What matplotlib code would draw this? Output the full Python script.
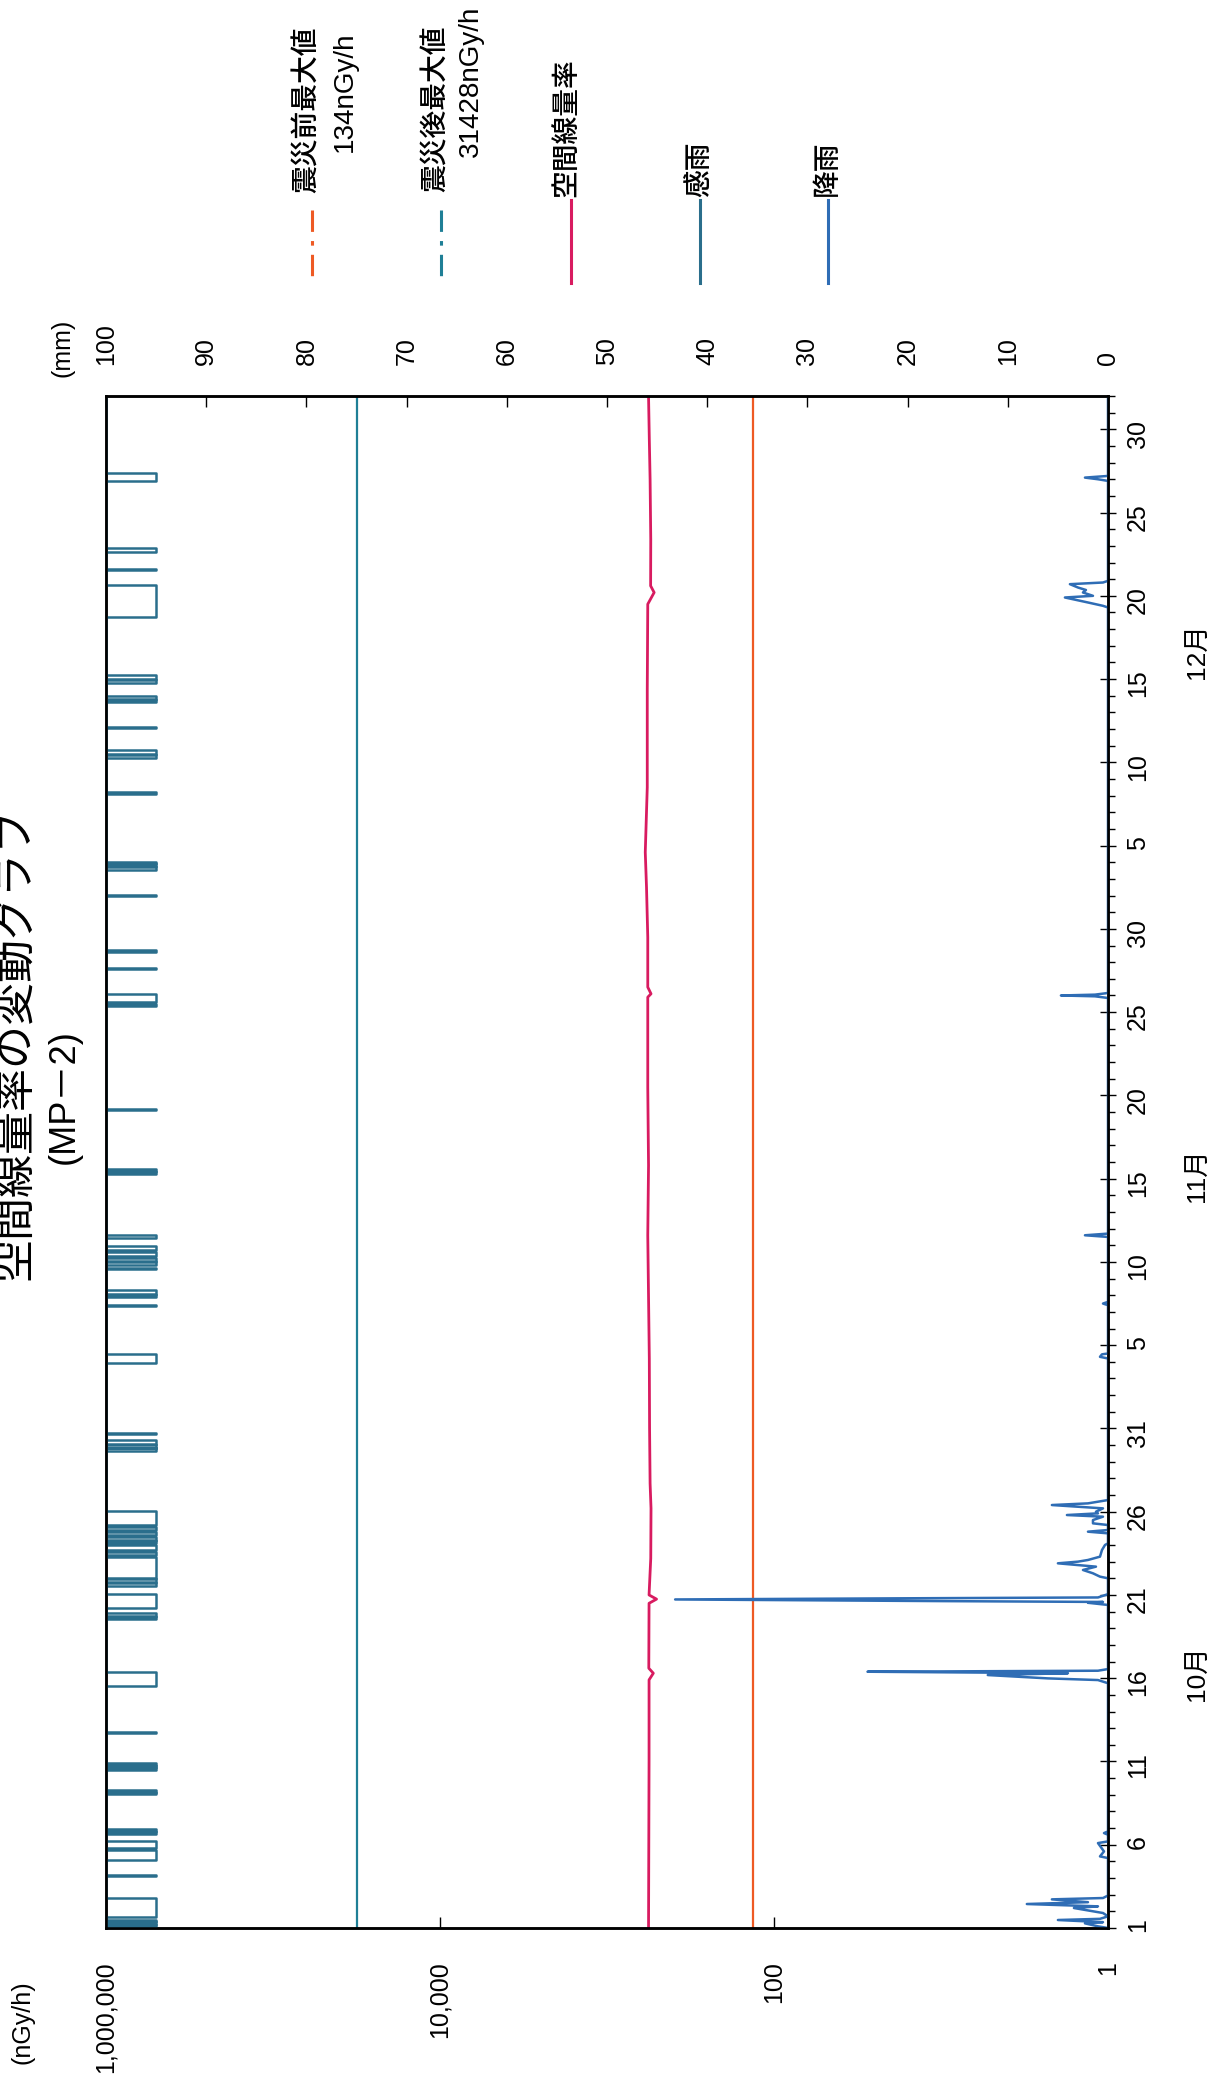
import matplotlib
matplotlib.use('Agg')
import matplotlib.pyplot as plt
from matplotlib.lines import Line2D
from matplotlib.ticker import NullLocator
from matplotlib.transforms import blended_transform_factory

plt.rcParams['font.family'] = ['Liberation Sans', 'Noto Sans CJK JP']

# days counted from Oct 1 00:00 (Oct 1 = 0, Nov 1 = 31, Dec 1 = 61, Jan 1 = 92)
date_ticks = list(range(0, 91, 5))
date_labels = ['1', '6', '11', '16', '21', '26', '31',
               '5', '10', '15', '20', '25', '30',
               '5', '10', '15', '20', '25', '30']
month_names = ['10月', '11月', '12月']
month_pos = [15.3, 45.2, 76.7]

dose_ticks = [1, 100, 10000, 1000000]
dose_tick_labels = ['1', '100', '10,000', '1,000,000']
mm_ticks = list(range(0, 101, 10))

pre_quake_max = 134      # nGy/h
post_quake_max = 31428   # nGy/h

# 空間線量率 (nGy/h)
dose_t = [0, 5, 10, 14.9, 15.3, 15.6, 19.5, 19.75, 20.0, 22.2, 25.2, 26.7, 30,
          34.2, 41.6, 45.8, 50.5, 55.9, 56.1, 56.5, 59.5, 62.5, 64.6, 68.5,
          74.4, 79.5, 80.2, 80.6, 83.4, 87.0, 89.4, 92]
dose_val = [564, 562, 560, 560, 528, 562, 560, 505, 560, 547, 545, 552, 556,
            558, 570, 564, 570, 570, 545, 570, 570, 580, 590, 574,
            574, 570, 522, 548, 547, 552, 558, 564]

# 降雨 (mm)
rain_t = [0.0, 0.1, 0.28, 0.35, 0.48, 0.55, 0.7, 0.9, 1.2, 1.3, 1.44, 1.55, 1.72, 1.8, 1.95,
          4.2, 4.3, 4.6, 5.1, 5.2, 5.6, 5.7, 5.8,
          14.7, 14.89, 14.99, 15.19, 15.3, 15.39, 15.45, 15.5, 15.55,
          19.4, 19.53, 19.58, 19.63, 19.73, 19.8, 19.85, 19.95, 20.05,
          21.0, 21.1, 21.3, 21.5, 21.7, 21.9, 22.0, 22.1, 22.3, 22.7, 23.0, 23.1,
          23.7, 23.8, 23.9, 24.2, 24.3, 24.5, 24.7, 24.8, 24.9, 25.0, 25.2, 25.4, 25.5, 25.6, 25.7,
          34.2, 34.3, 34.45, 34.5,
          37.4, 37.5, 37.6,
          41.5, 41.6, 41.7,
          55.85, 55.95, 56.0, 56.05, 56.15,
          79.3, 79.4, 79.6, 79.9, 80.0, 80.2, 80.35, 80.5, 80.7, 80.8, 80.9,
          86.9, 87.0, 87.1, 87.2, 92]
rain_mm = [0, 1.0, 2.3, 0.5, 5.0, 0.8, 0, 0.5, 3.4, 1.0, 8.1, 2.0, 5.6, 0.5, 0,
           0, 0.8, 0.4, 1.0, 0, 0, 0.4, 0,
           0, 1.0, 6.0, 12.0, 4.0, 24.0, 1.0, 0.5, 0,
           0, 2.0, 0.5, 16.5, 43.2, 20.0, 1.0, 0.5, 0,
           0, 0.8, 1.5, 2.5, 1.2, 5.0, 3.0, 2.0, 0.8, 0.6, 0.3, 0,
           0, 2.0, 0, 0, 1.5, 1.5, 0.5, 4.1, 1.0, 1.2, 0.5, 5.6, 2.0, 1.0, 0,
           0, 0.8, 0.6, 0,
           0, 0.5, 0,
           0, 2.3, 0,
           0, 1.3, 4.7, 1.3, 0,
           0, 0.5, 2.0, 4.3, 1.5, 2.5, 2.2, 3.0, 3.8, 0.5, 0,
           0, 1.0, 2.3, 0, 0]

# 感雨 on-periods (start, end)
rain_sense = [(0.07, 0.2), (0.25, 0.35), (0.4, 0.48), (0.69, 1.83), (3.12, 3.2),
              (4.10, 4.7), (4.8, 5.24), (5.65, 5.75), (5.8, 5.96),
              (8.03, 8.12), (8.17, 8.28), (9.48, 9.6), (9.65, 9.75), (9.8, 9.89),
              (11.72, 11.8), (14.55, 15.38), (18.58, 18.7), (18.75, 18.89),
              (19.20, 20.03), (20.54, 20.7), (20.75, 20.96), (21.0, 22.30),
              (22.40, 22.6), (22.7, 23.0), (23.1, 23.23), (23.3, 23.5), (23.6, 23.8),
              (23.9, 24.1), (24.2, 25.03), (28.67, 28.8), (28.85, 29.0), (29.05, 29.29),
              (29.65, 29.72),
              (33.9, 34.44), (37.33, 37.4), (37.87, 38.0), (38.1, 38.29),
              (39.55, 39.62), (39.80, 40.0), (40.05, 40.23), (40.34, 40.6), (40.7, 40.98),
              (41.41, 41.62), (45.27, 45.4), (45.45, 45.59), (49.1, 49.17),
              (55.35, 55.5), (55.6, 56.1), (57.57, 57.64), (58.64, 58.71), (61.97, 62.04),
              (63.54, 63.7), (63.75, 63.9), (63.95, 64.04),
              (68.12, 68.19), (70.25, 70.45), (70.5, 70.75), (72.06, 72.12),
              (73.6, 73.75), (73.8, 74.0), (74.76, 74.95), (75.0, 75.26),
              (78.72, 80.66), (81.53, 81.6), (82.66, 82.86), (86.87, 87.37)]
sense_off, sense_on = 100, 95

c_pre = '#ee5a24'
c_post = '#1f7f96'
c_dose = '#d81b60'
c_sense = '#2a6e8c'
c_rain = '#2f6db5'

W, H = 1208, 2084
fig = plt.figure(figsize=(W / 100, H / 100), dpi=100)


def fx(px):
    return px / W


def fy(py):
    return 1 - py / H


ax = fig.add_axes([fx(106), fy(1928), fx(1108) - fx(106), fy(396) - fy(1928)])
ax.set_xscale('log')
ax.set_xlim(1e6, 1)
ax.set_ylim(0, 92)

ax.axvline(pre_quake_max, color=c_pre, lw=1.6)
ax.axvline(post_quake_max, color=c_post, lw=1.6)
ax.plot(dose_val, dose_t, color=c_dose, lw=2)

ax.set_xticks(dose_ticks, labels=dose_tick_labels)
ax.xaxis.set_minor_locator(NullLocator())
ax.tick_params(axis='x', direction='in', length=8, width=1, labelrotation=90,
               pad=24, labelsize=18)

ax.yaxis.tick_right()
ax.set_yticks(date_ticks, labels=date_labels)
ax.set_yticks(range(0, 93), minor=True)
ax.tick_params(axis='y', which='major', direction='inout', length=12, width=1,
               labelrotation=90, pad=7, labelsize=18)
ax.tick_params(axis='y', which='minor', direction='out', length=5, width=1)

# rainfall axis (mm)
ax2 = ax.twiny()
ax2.set_xlim(100, 0)
ax2.set_xticks(mm_ticks)
ax2.tick_params(axis='x', direction='in', length=8, width=1, labelrotation=90,
                pad=22, labelsize=18)

sense_t, sense_v = [0], [sense_off]
for s, e in rain_sense:
    sense_t += [s, s, e, e]
    sense_v += [sense_off, sense_on, sense_on, sense_off]
sense_t.append(92)
sense_v.append(sense_off)
ax2.plot(sense_v, sense_t, color=c_sense, lw=1.8)
ax2.plot(rain_mm, rain_t, color=c_rain, lw=1.8)

for a in (ax, ax2):
    for sp in a.spines.values():
        sp.set_linewidth(1.8)

tr = blended_transform_factory(ax.transAxes, ax.transData)
for name, pos in zip(month_names, month_pos):
    ax.text(1.09, pos, name, transform=tr, rotation=90, ha='center', va='center',
            fontsize=19)

# titles and units
fig.text(fx(16), fy(1043), '空間線量率の変動グラフ', rotation=90, ha='center',
         va='center', fontsize=31)
fig.text(fx(64), fy(1097), '(MP－2)', rotation=90, ha='center', va='center',
         fontsize=26)
fig.text(fx(62), fy(348), '(mm)', rotation=90, ha='center', va='center', fontsize=18)
fig.text(fx(22), fy(1980), '(nGy/h)', rotation=90, ha='center', va='top', fontsize=18)

# legend
legend_items = [
    (312, c_pre, (0, (7, 3, 1.5, 3)), 210),
    (441, c_post, (0, (7, 3, 1.5, 3)), 210),
    (571, c_dose, '-', 200),
    (700, c_sense, '-', 200),
    (828, c_rain, '-', 200),
]
for x, col, ls, ytop in legend_items:
    fig.add_artist(Line2D([fx(x), fx(x)], [fy(ytop), fy(283)], transform=fig.transFigure,
                          color=col, lw=2.2, linestyle=ls))

legend_texts = [
    (308, 193, '震災前最大値'),
    (345, 152, '134nGy/h'),
    (437, 192, '震災後最大値'),
    (471, 157, '31428nGy/h'),
    (567, 197, '空間線量率'),
    (700, 197, '感雨'),
    (828, 196, '降雨'),
]
for x, yb, txt in legend_texts:
    fig.text(fx(x), fy(yb), txt, rotation=90, ha='center', va='bottom', fontsize=20,
             fontweight='medium')

fig.savefig('out.png', dpi=100, facecolor='white')
